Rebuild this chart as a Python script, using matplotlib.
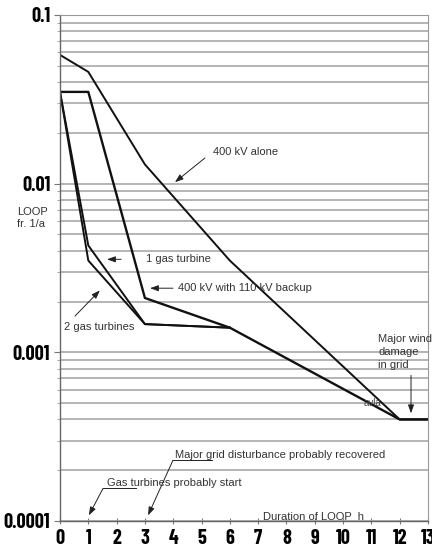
import numpy as np
import matplotlib.pyplot as plt
from matplotlib.ticker import LogLocator, NullFormatter

# Data (duration h, LOOP frequency 1/a)
hours = [0, 1, 3, 6, 12, 13]
kv400_alone = [0.058, 0.046, 0.013, 0.0035, 0.0004, 0.0004]
kv400_backup = [0.035, 0.035, 0.0021, 0.0014, 0.0004, 0.0004]
hours_gas = [0, 1, 3, 6]
gas_1 = [0.035, 0.0043, 0.00147, 0.0014]
gas_2 = [0.035, 0.0035, 0.00147, 0.0014]

x_ticks = list(range(0, 14))
y_ticks = [0.0001, 0.001, 0.01, 0.1]
y_labels = ['0.0001', '0.001', '0.01', '0.1']

tick_font = dict(family=['Barlow Condensed', 'Liberation Sans Narrow', 'DejaVu Sans'],
                 weight='bold', size=14.5)
txt = dict(family=['Liberation Sans', 'DejaVu Sans'], size=8, color='#333333')
arr = dict(arrowstyle='-|>,head_length=0.5,head_width=0.18', color='#222222', lw=0.7,
           shrinkA=0, shrinkB=0)

fig = plt.figure(figsize=(4.32, 5.5), dpi=100)
ax = fig.add_axes([60 / 432, 1 - 521 / 550, 368 / 432, 506 / 550])

ax.set_yscale('log')
ax.set_xlim(0, 13)
ax.set_ylim(0.0001, 0.1)

# horizontal grid on every minor step
ax.yaxis.set_minor_locator(LogLocator(base=10, subs=np.arange(2, 10)))
ax.yaxis.set_minor_formatter(NullFormatter())
ax.grid(True, which='both', axis='y', color='#a0a0a0', lw=1.1)
ax.set_axisbelow(True)

ax.plot(hours, kv400_alone, color='#111111', lw=1.4)
ax.plot(hours, kv400_backup, color='#111111', lw=1.7)
ax.plot(hours_gas, gas_1, color='#111111', lw=1.4)
ax.plot(hours_gas, gas_2, color='#111111', lw=1.4)

ax.set_xticks(x_ticks)
ax.set_xticklabels([str(v) for v in x_ticks], fontdict=tick_font)
ax.set_yticks(y_ticks)
ax.set_yticklabels(y_labels, fontdict=tick_font)
ax.tick_params(axis='x', direction='inout', length=5, color='#777777', pad=3)
ax.tick_params(axis='y', which='major', direction='out', length=4, color='#777777', pad=3)
ax.tick_params(axis='y', which='minor', direction='out', length=2, color='#999999')

for side in ['left', 'bottom']:
    ax.spines[side].set_color('#666666')
    ax.spines[side].set_linewidth(1.0)
for side in ['top', 'right']:
    ax.spines[side].set_color('#999999')
    ax.spines[side].set_linewidth(0.8)

fig.text(17 / 432, 1 - 212 / 550, 'LOOP', ha='left', va='center', **txt)
fig.text(17 / 432, 1 - 224 / 550, 'fr. 1/a', ha='left', va='center', **txt)

ax.annotate('', xy=(4.06, 0.0102), xytext=(5.12, 0.0142), arrowprops=arr)
ax.text(5.4, 0.0154, '400 kV alone', ha='left', va='center', **txt)

ax.annotate('', xy=(1.66, 0.00356), xytext=(2.16, 0.00356), arrowprops=arr)
ax.text(3.04, 0.00356, '1 gas turbine', ha='left', va='center', **txt)

ax.annotate('', xy=(3.18, 0.0024), xytext=(3.99, 0.0024), arrowprops=arr)
ax.text(4.17, 0.0024, '400 kV with 110 kV backup', ha='left', va='center', **txt)

ax.annotate('', xy=(1.41, 0.00233), xytext=(0.53, 0.00164), arrowprops=arr)
ax.text(0.14, 0.00141, '2 gas turbines', ha='left', va='center', **txt)

ax.text(11.24, 0.00128, 'Major wind\ndamage\nin grid', ha='left', va='top', linespacing=1.35, **txt)
ax.annotate('', xy=(12.4, 0.000435), xytext=(12.4, 0.00073), arrowprops=arr)
ax.text(10.71, 0.000498, 'avla', ha='left', va='center', family=['Liberation Sans', 'DejaVu Sans'],
        size=7, color='#444444')

ax.text(4.06, 0.000245, 'Major grid disturbance probably recovered', ha='left', va='center', **txt)
ax.plot([5.37, 3.99], [0.000229, 0.000229], color='#222222', lw=0.7)
ax.annotate('', xy=(3.11, 0.000108), xytext=(3.99, 0.000229), arrowprops=arr)

ax.text(1.66, 0.000169, 'Gas turbines probably start', ha='left', va='center', **txt)
ax.plot([2.69, 1.52], [0.000156, 0.000156], color='#222222', lw=0.7)
ax.annotate('', xy=(1.02, 0.000108), xytext=(1.52, 0.000156), arrowprops=arr)

ax.text(7.17, 0.0001063, 'Duration of LOOP  h', ha='left', va='center', **txt)

plt.savefig('out.png', dpi=100)
